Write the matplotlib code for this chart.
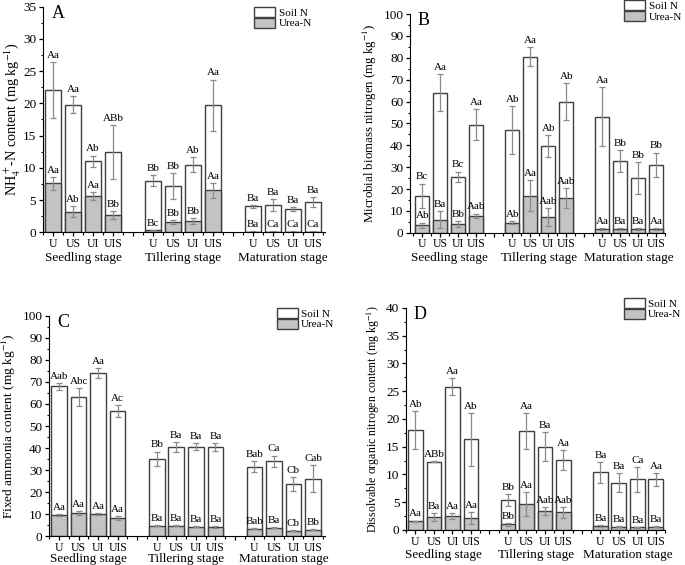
import numpy as np
import matplotlib
matplotlib.use('Agg')
import matplotlib.pyplot as plt
from matplotlib.patches import Patch
from matplotlib.ticker import MultipleLocator

plt.rcParams['font.family'] = ['Liberation Serif', 'DejaVu Serif']
plt.rcParams['mathtext.fontset'] = 'stix'

treatments = ['U', 'US', 'UI', 'UIS']
stages = ['Seedling stage', 'Tillering stage', 'Maturation stage']

# panel A: NH4+-N
a_total = [22.1, 19.8, 11.0, 12.5, 8.0, 7.2, 10.5, 19.7, 4.0, 4.2, 3.6, 4.7]
a_total_err = [4.3, 1.3, 0.9, 4.2, 0.9, 2.0, 1.1, 4.0, 0.2, 0.9, 0.3, 0.8]
a_urea = [7.6, 3.2, 5.6, 2.7, 0.3, 1.6, 1.7, 6.5, 0.1, 0.1, 0.1, 0.1]
a_urea_err = [1.0, 0.8, 0.6, 0.6, 0.05, 0.3, 0.5, 1.2, 0.05, 0.05, 0.05, 0.05]
a_total_lab = ['Aa', 'Aa', 'Ab', 'ABb', 'Bb', 'Bb', 'Ab', 'Aa', 'Ba', 'Ba', 'Ba', 'Ba']
a_urea_lab = ['Aa', 'Ab', 'Aa', 'Bb', 'Bc', 'Bb', 'Bb', 'Aa', 'Ba', 'Ca', 'Ca', 'Ca']

# panel B: microbial biomass N
b_total = [17.0, 64.0, 25.5, 49.5, 47.0, 80.5, 39.5, 60.0, 53.0, 32.7, 25.0, 31.0]
b_total_err = [5.5, 8.5, 2.5, 7.0, 11.0, 4.3, 5.0, 8.5, 13.5, 5.0, 7.2, 5.7]
b_urea = [3.5, 6.0, 4.0, 7.8, 4.5, 17.0, 7.3, 16.0, 1.8, 1.8, 1.7, 1.8]
b_urea_err = [1.2, 4.0, 1.3, 1.0, 0.7, 7.0, 4.0, 4.5, 0.3, 0.3, 0.3, 0.3]
b_total_lab = ['Bc', 'Aa', 'Bc', 'Aa', 'Ab', 'Aa', 'Ab', 'Ab', 'Aa', 'Bb', 'Bb', 'Bb']
b_urea_lab = ['Ab', 'Ba', 'Bb', 'Aab', 'Ab', 'Aa', 'Aab', 'Aab', 'Aa', 'Ba', 'Ba', 'Aa']

# panel C: fixed ammonia
c_total = [68.0, 63.3, 74.0, 56.7, 35.2, 40.5, 40.7, 40.3, 31.6, 33.9, 23.8, 26.0]
c_total_err = [1.5, 4.0, 2.3, 2.8, 3.2, 2.3, 1.4, 1.8, 2.3, 2.7, 3.2, 6.1]
c_urea = [9.6, 10.5, 10.1, 8.2, 4.7, 4.8, 4.3, 4.2, 3.4, 3.8, 2.5, 2.9]
c_urea_err = [0.6, 0.9, 0.4, 0.8, 0.2, 0.2, 0.3, 0.4, 0.2, 0.3, 0.2, 0.3]
c_total_lab = ['Aab', 'Abc', 'Aa', 'Ac', 'Bb', 'Ba', 'Ba', 'Ba', 'Bab', 'Ca', 'Cb', 'Cab']
c_urea_lab = ['Aa', 'Aa', 'Aa', 'Aa', 'Ba', 'Ba', 'Ba', 'Ba', 'Bab', 'Ba', 'Cb', 'Bb']

# panel D: dissolvable organic N
d_total = [18.0, 12.3, 25.8, 16.3, 5.4, 17.8, 15.0, 12.6, 10.4, 8.5, 9.1, 9.1]
d_total_err = [3.5, 0.1, 1.5, 4.8, 1.0, 3.3, 2.6, 1.8, 1.9, 1.7, 2.2, 1.2]
d_urea = [1.6, 2.3, 2.5, 2.1, 1.0, 4.7, 3.4, 3.2, 0.7, 0.6, 0.5, 0.6]
d_urea_err = [0.1, 0.7, 0.5, 1.1, 0.2, 2.1, 0.7, 1.0, 0.15, 0.1, 0.1, 0.15]
d_total_lab = ['Ab', 'ABb', 'Aa', 'Ab', 'Bb', 'Aa', 'Ba', 'Aa', 'Ba', 'Ba', 'Ca', 'Aa']
d_urea_lab = ['Aa', 'Ba', 'Aa', 'Aa', 'Bb', 'Aa', 'Aab', 'Aab', 'Ba', 'Ba', 'Ba', 'Ba']

x = np.array([0, 1, 2, 3, 5, 6, 7, 8, 10, 11, 12, 13], dtype=float)

fig = plt.figure(figsize=(6.85, 5.65), dpi=100)

panels = [
    # rect, letter, ylabel, ylabel size, labelpad, ymax, major, minor, xlim, legend anchor, stage offset, data
    ([0.063, 0.589, 0.411, 0.399], 'A', r'NH$_4^+$-N content (mg kg$^{-1}$)', 10.2, 0.5, 35, 5, 2.5,
     (-0.5, 13.6), (0.75, 1.0), -14,
     a_total, a_total_err, a_urea, a_urea_err, a_total_lab, a_urea_lab),
    ([0.599, 0.588, 0.372, 0.387], 'B', r'Microbial biomass nitrogen (mg kg$^{-1}$)', 9.3, 3, 100, 10, 5,
     (-0.66, 13.4), (0.84, 1.064), -14,
     b_total, b_total_err, b_urea, b_urea_err, b_total_lab, b_urea_lab),
    ([0.072, 0.051, 0.402, 0.390], 'C', r'Fixed ammonia content (mg kg$^{-1}$)', 9.6, 3, 100, 10, 5,
     (-0.46, 13.6), (0.826, 1.036), -12.3,
     c_total, c_total_err, c_urea, c_urea_err, c_total_lab, c_urea_lab),
    ([0.593, 0.062, 0.378, 0.393], 'D', r'Dissolvable organic nitrogen content (mg kg$^{-1}$)', 8.6, 3, 40, 5, 2.5,
     (-0.42, 13.3), (0.84, 1.045), -14,
     d_total, d_total_err, d_urea, d_urea_err, d_total_lab, d_urea_lab),
]

edge = '#404040'
grey = '#c3c3c3'
ecol = '#8a8a8a'

for (rect, letter, ylab, ylsize, ylpad, ymax, major, minor, xl, lanchor, st_off,
     tot, tot_err, urea, urea_err, tot_lab, urea_lab) in panels:
    ax = fig.add_axes(rect)
    tot = np.array(tot)
    urea = np.array(urea)
    ax.bar(x, tot, width=0.8, color='white', edgecolor=edge, linewidth=1.0)
    ax.bar(x, urea, width=0.8, color=grey, edgecolor=edge, linewidth=1.0)
    ax.errorbar(x, tot, yerr=tot_err, fmt='none', ecolor=ecol, elinewidth=0.9,
                capsize=2, capthick=0.9)
    ax.errorbar(x, urea, yerr=urea_err, fmt='none', ecolor=ecol, elinewidth=0.9,
                capsize=2, capthick=0.9)
    for xi, t, te, u, ue, tl, ul in zip(x, tot, tot_err, urea, urea_err, tot_lab, urea_lab):
        ax.annotate(tl, (xi, t + te), xytext=(0, 1.5), textcoords='offset points',
                    ha='center', va='bottom', fontsize=8)
        ax.annotate(ul, (xi, u + ue), xytext=(0, 1.5), textcoords='offset points',
                    ha='center', va='bottom', fontsize=8)

    ax.set_ylim(0, ymax)
    ax.set_xlim(*xl)
    ax.yaxis.set_major_locator(MultipleLocator(major))
    ax.yaxis.set_minor_locator(MultipleLocator(minor))
    ax.set_xticks(list(x) + [4, 9])
    ax.set_xticklabels(treatments * 3 + ['', ''])
    ax.set_xticks(np.arange(-0.5, 13.6, 0.5), minor=True)
    ax.tick_params(direction='out', length=3, width=0.9)
    ax.tick_params(axis='x', labelsize=8.5, pad=1)
    ax.tick_params(axis='y', labelsize=9.5, pad=2)
    ax.tick_params(which='minor', direction='out', length=1.8, width=0.8)
    ax.spines['top'].set_visible(False)
    ax.spines['right'].set_visible(False)
    ax.set_ylabel(ylab, fontsize=ylsize, labelpad=ylpad)

    for i, st in enumerate(stages):
        ax.annotate(st, (x[i * 4:(i + 1) * 4].mean(), 0), xycoords=('data', 'axes fraction'),
                    xytext=(0, st_off), textcoords='offset points', ha='center', va='top',
                    fontsize=9.5)

    ax.text(0.03, 1.01, letter, transform=ax.transAxes, fontsize=13, va='top', ha='left')

    handles = [Patch(facecolor='white', edgecolor=edge, linewidth=1.0),
               Patch(facecolor=grey, edgecolor=edge, linewidth=1.0)]
    ax.legend(handles, ['Soil N', 'Urea-N'], loc='upper left', bbox_to_anchor=lanchor,
              frameon=False, fontsize=8, borderpad=0, borderaxespad=0,
              labelspacing=0, handlelength=1.9, handleheight=1.0, handletextpad=0.3)

fig.savefig('out.png', dpi=100)
